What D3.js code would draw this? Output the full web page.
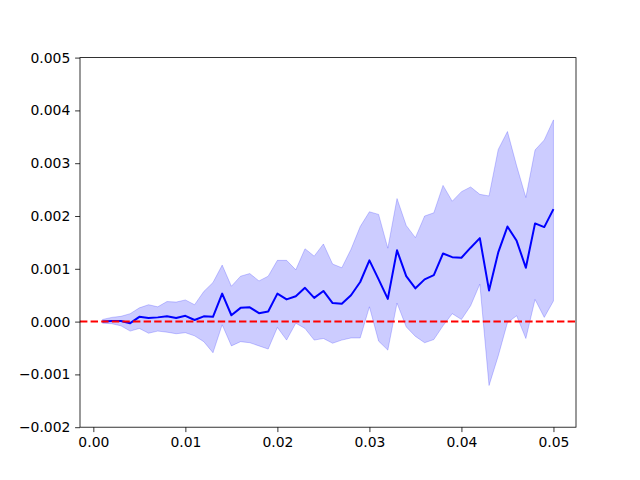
<!DOCTYPE html>
<html>
<head>
<meta charset="utf-8">
<script src="https://cdn.jsdelivr.net/npm/d3@7"></script>
<style>
  body { margin: 0; background: #fff; }
  svg text { font-family: "DejaVu Sans", sans-serif; font-size: 13.9px; fill: #000; }
</style>
</head>
<body>
<div id="chart"></div>
<script>
// x values 0.001 .. 0.050
const xs = [0.001, 0.002, 0.003, 0.004, 0.005, 0.006, 0.007, 0.008, 0.009, 0.010,
            0.011, 0.012, 0.013, 0.014, 0.015, 0.016, 0.017, 0.018, 0.019, 0.020,
            0.021, 0.022, 0.023, 0.024, 0.025, 0.026, 0.027, 0.028, 0.029, 0.030,
            0.031, 0.032, 0.033, 0.034, 0.035, 0.036, 0.037, 0.038, 0.039, 0.040,
            0.041, 0.042, 0.043, 0.044, 0.045, 0.046, 0.047, 0.048, 0.049, 0.050];

const meanVals = [0.00000, 0.00001, 0.00001, -0.00003, 0.00009, 0.00007, 0.00008, 0.00010, 0.00007, 0.00011,
                  0.00003, 0.00010, 0.00009, 0.00053, 0.00012, 0.00026, 0.00027, 0.00016, 0.00019, 0.00053,
                  0.00042, 0.00048, 0.00064, 0.00045, 0.00058, 0.00035, 0.00034, 0.00050, 0.00075, 0.00116,
                  0.00080, 0.00043, 0.00135, 0.00086, 0.00063, 0.00080, 0.00088, 0.00129, 0.00122, 0.00121,
                  0.00140, 0.00158, 0.00059, 0.00131, 0.00180, 0.00153, 0.00102, 0.00186, 0.00179, 0.00213];

const upperVals = [0.00004, 0.00008, 0.00010, 0.00015, 0.00026, 0.00032, 0.00028, 0.00038, 0.00037, 0.00041,
                   0.00032, 0.00057, 0.00074, 0.00107, 0.00067, 0.00086, 0.00091, 0.00077, 0.00086, 0.00116,
                   0.00116, 0.00098, 0.00138, 0.00124, 0.00147, 0.00109, 0.00102, 0.00137, 0.00180, 0.00208,
                   0.00203, 0.00139, 0.00233, 0.00182, 0.00159, 0.00200, 0.00206, 0.00258, 0.00228, 0.00246,
                   0.00255, 0.00241, 0.00238, 0.00326, 0.00360, 0.00295, 0.00235, 0.00325, 0.00344, 0.00382];

const lowerVals = [-0.00003, -0.00004, -0.00008, -0.00018, -0.00013, -0.00022, -0.00018, -0.00020, -0.00023, -0.00021,
                   -0.00027, -0.00038, -0.00059, -0.00006, -0.00046, -0.00038, -0.00040, -0.00046, -0.00052, -0.00011,
                   -0.00035, -0.00003, -0.00013, -0.00035, -0.00032, -0.00041, -0.00035, -0.00031, -0.00031, 0.00028,
                   -0.00037, -0.00054, 0.00035, -0.00010, -0.00028, -0.00040, -0.00034, -0.00008, 0.00015, 0.00004,
                   0.00030, 0.00071, -0.00121, -0.00065, -0.00002, 0.00011, -0.00032, 0.00042, 0.00008, 0.00039];

const xTicks = [0.00, 0.01, 0.02, 0.03, 0.04, 0.05];
const yTicks = [-0.002, -0.001, 0.000, 0.001, 0.002, 0.003, 0.004, 0.005];

const width = 640, height = 480;
const margin = { left: 80, right: 64, top: 57.6, bottom: 52.8 };

const svg = d3.select("#chart").append("svg")
    .attr("width", width)
    .attr("height", height);

// matplotlib style 5% margins on x
const xMin = d3.min(xs), xMax = d3.max(xs);
const pad = (xMax - xMin) * 0.05;
const x = d3.scaleLinear()
    .domain([xMin - pad, xMax + pad])
    .range([margin.left, width - margin.right]);
const y = d3.scaleLinear()
    .domain([-0.002, 0.005])
    .range([height - margin.bottom, margin.top]);

const rows = xs.map((v, i) => ({ x: v, m: meanVals[i], lo: lowerVals[i], hi: upperVals[i] }));

const plot = svg.append("g");

const area = d3.area()
    .x(d => x(d.x))
    .y0(d => y(d.lo))
    .y1(d => y(d.hi));

plot.append("path")
    .datum(rows)
    .attr("d", area)
    .attr("fill", "rgba(0,0,255,0.2)")
    .attr("stroke", "rgba(0,0,255,0.2)")
    .attr("stroke-width", 1);

plot.append("path")
    .datum(rows)
    .attr("d", d3.line().x(d => x(d.x)).y(d => y(d.m)))
    .attr("fill", "none")
    .attr("stroke", "#0000ff")
    .attr("stroke-width", 2)
    .attr("stroke-linejoin", "round");

// zero line
plot.append("line")
    .attr("x1", margin.left).attr("x2", width - margin.right)
    .attr("y1", y(0)).attr("y2", y(0))
    .attr("stroke", "#ff0000")
    .attr("stroke-width", 2)
    .attr("stroke-dasharray", "7.4,3.2");

const fmt = d => d3.format(".3f")(d).replace("-", "\u2212");

svg.append("g")
    .attr("transform", `translate(0,${height - margin.bottom})`)
    .call(d3.axisBottom(x).tickValues(xTicks).tickFormat(d3.format(".2f")).tickSize(4.9).tickPadding(4.8).tickSizeOuter(0))
    .call(g => g.select(".domain").remove());

svg.append("g")
    .attr("transform", `translate(${margin.left},0)`)
    .call(d3.axisLeft(y).tickValues(yTicks).tickFormat(fmt).tickSize(4.9).tickPadding(4.8).tickSizeOuter(0))
    .call(g => g.select(".domain").remove());

svg.selectAll(".tick line").attr("stroke", "#000").attr("stroke-width", 0.8);
svg.selectAll(".tick text").attr("font-family", "DejaVu Sans").attr("font-size", 13.9).attr("fill", "#000");

// axes frame
svg.append("rect")
    .attr("x", margin.left).attr("y", margin.top)
    .attr("width", width - margin.left - margin.right)
    .attr("height", height - margin.top - margin.bottom)
    .attr("fill", "none")
    .attr("stroke", "#000")
    .attr("stroke-width", 0.8);
</script>
</body>
</html>
